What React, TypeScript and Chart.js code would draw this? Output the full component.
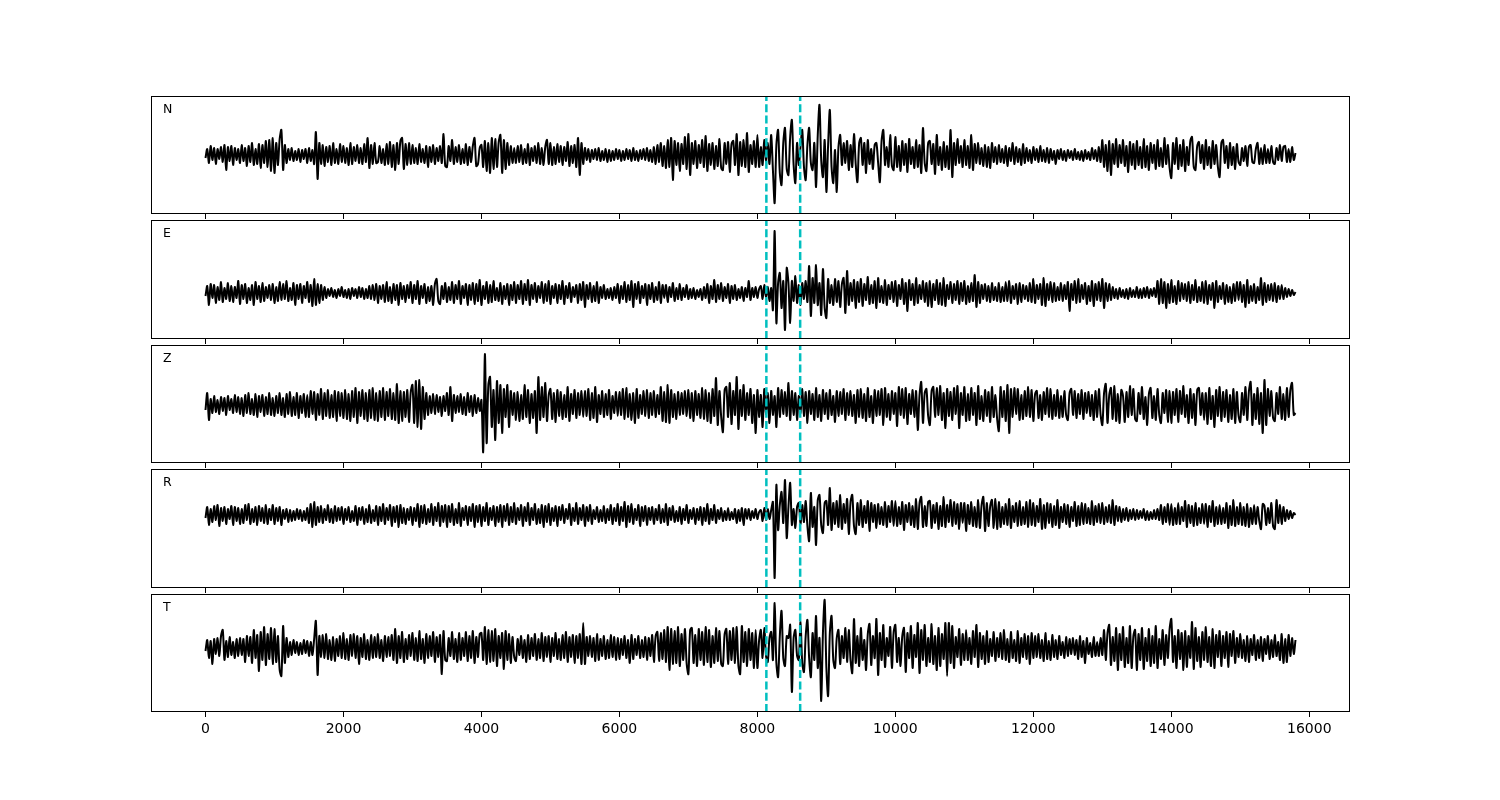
import React, { useEffect, useRef } from 'react';
import { Chart, registerables } from 'chart.js';

Chart.register(...registerables);

// ---------- data ----------
const SAMPLE_STEP = 25; // time units between samples (0 .. 15800)
const PICKS = [8130, 8620];
const X_TICKS = [0, 2000, 4000, 6000, 8000, 10000, 12000, 14000, 16000];
const X_MIN = -790;
const X_MAX = 16590;
const COMPONENTS = ['N', 'E', 'Z', 'R', 'T'];

const N_TRACE = [
  -3, 6, -8, 9, -5, 7, -9, 6, -4, 8, -7, 10, -15, 8, -6, 9, -10, 7, -5, 6,
  -8, 10, -6, 7, -11, 9, -7, 12, -10, 6, -9, 11, -13, 10, -8, 14, -12, 15, -16, 17,
  -18, 12, -10, 16, 25, -15, 10, -8, 6, -5, 7, -6, 4, -5, 6, -7, 5, -4, 6, -8,
  7, -6, 5, -9, 23, -24, 12, -9, 10, -11, 8, -7, 9, -10, 12, -8, 6, -9, 11, -7,
  9, -8, 7, -10, 12, -9, 8, -6, 10, -8, 7, -9, 11, -7, 17, -13, 10, -9, 12, -8,
  -7, 9, -8, 6, -10, 11, -9, 13, -12, 10, -15, 12, -9, 14, 17, -14, 11, -10, 12, -9,
  10, -8, 7, -9, 11, -7, 6, -8, 9, -12, 8, -7, 10, -9, 7, -6, 9, -8, 21, -11,
  -12, 9, -6, 15, -9, 8, -7, 10, -9, 6, -8, 11, -10, 8, -7, 9, 17, -11, -9, 7,
  10, -12, 14, -16, 12, -18, 17, -14, 16, -12, 13, 20, -18, 15, -14, 12, -10, 9, -8, 7,
  -8, 9, -7, 10, -9, 6, -8, 11, -10, 7, -6, 9, -8, 12, -9, 7, -10, 8, 15, -9,
  12, -10, 8, -9, 11, -7, 9, -10, 8, -6, 13, -11, 9, -8, 10, -12, 17, -20, 12, -9,
  7, -5, 6, -7, 5, -4, 6, -5, 7, -6, 4, -5, 6, -7, 5, -6, 4, -5, 6, -4,
  5, -6, 4, -5, 6, -4, 5, -6, 7, -5, 4, -6, 5, -4, 6, -5, 7, -6, 5, -7,
  8, -9, 10, -7, 12, -11, 9, -13, 15, -12, 17, -25, 14, -10, 12, -16, 11, -9, 18, -14,
  21, -20, 12, -9, 14, -13, 10, -8, 15, -12, 19, -16, 11, -10, 12, -14, 9, -11, 16, -13,
  -15, 12, -9, 13, -17, 11, 14, -10, 21, -20, 13, -11, 15, -12, 22, -17, 10, -9, 14, -12,
  20, -12, 8, -10, 15, -6, 12, -9, 20, -15, -48, 10, 25, -18, -30, 12, 27, -14, -20, 18,
  35, -10, -28, 12, -10, 8, 25, -12, -25, 10, 27, -8, -15, 12, -32, 20, 50, -5, -22, 15,
  -37, 10, 45, -12, -28, 5, -37, 8, 20, -10, 12, -8, 14, -15, 10, -12, 21, -9, -27, 12,
  17, -10, 12, -18, 15, -9, 6, -14, 10, 12, -8, -27, 14, 25, -10, 8, -12, 20, -11, -15,
  18, -12, 9, -16, 14, -10, 11, -17, 16, -9, 8, -13, 15, -12, 10, -18, 27, -8, -16, 12,
  14, -9, 11, -19, 20, -10, 8, -15, 13, -12, 9, -14, 25, -22, 12, -10, 16, -8, 9, -12,
  15, -10, 9, -13, 20, -15, 11, -8, 12, -9, 7, -11, 10, -12, 8, -13, 12, -7, 8, -9,
  10, -7, 6, -8, 9, -11, 7, -6, 12, -9, 8, -7, 6, -10, 11, -8, 7, -6, 5, -8,
  8, -5, 6, -7, 9, -6, 5, -7, 7, -8, 6, -5, 4, -9, 5, -4, 6, -5, 4, -6,
  5, -3, 4, -5, 6, -4, 3, -5, 4, -6, 5, -4, 3, -5, 7, -4, 5, -6, 8, -7,
  15, -12, 10, -16, 14, -20, 11, -9, 16, -12, 10, -8, 15, -11, 9, -17, 13, -10, 11, -14,
  14, -10, 8, -13, 16, -12, 9, -15, 12, -8, 10, -14, 15, -11, 7, -12, 17, -9, 10, -13,
  -23, 12, -9, 17, -14, 10, -11, 15, -16, 8, -10, 14, 18, -12, -15, 9, 13, -8, 10, -14,
  15, -10, 8, -13, 14, -9, 10, -12, -22, 12, 15, -8, 9, -13, 12, -10, 8, -14, 11, -7,
  -10, 7, -6, 9, -11, 8, 10, -7, -8, 6, 12, -9, 7, -9, 10, -8, 6, -8, 9, -7,
  -9, 7, -5, 10, -6, 8, 9, -7, 6, -7, 8, -5, 2,
];

const E_TRACE = [
  -3, 7, -12, 9, -5, 8, -10, 6, -7, 11, -9, 5, -6, 10, -8, 7, -9, 6, -5, 12,
  -11, 8, -6, 9, -10, 5, -7, 8, -12, 11, -6, 7, -9, 10, -8, 6, -5, 8, -7, 9,
  -10, 6, -8, 11, -7, 9, -6, 12, -8, 5, -7, 10, -12, 8, -6, 9, -10, 7, -5, 11,
  -9, 8, -13, 14, -12, 9, -10, 8, -7, 6, -5, 4, -3, 5, -4, 3, -5, 4, -3, 6,
  -4, 3, -5, 4, -6, 5, -3, 4, -5, 6, -4, 5, -6, 4, -5, 7, -6, 8, -7, 9,
  -10, 7, -6, 8, -9, 11, -8, 6, -10, 9, -7, 8, -12, 10, -6, 7, -9, 8, -5, 11,
  -10, 8, -6, 12, -11, 7, -5, 9, -10, 6, -8, 7, -12, 9, 14, -8, -11, 7, -6, 10,
  -9, 6, -7, 11, -10, 8, -6, 12, -11, 7, -5, 9, -12, 8, -7, 10, -11, 9, -8, 13,
  -12, 7, -6, 11, -10, 8, -9, 12, -7, 5, -8, 10, -11, 7, -6, 9, -12, 8, -7, 11,
  -10, 8, -6, 12, -11, 9, -7, 13, -12, 8, -6, 10, -9, 7, -5, 11, -10, 9, -8, 12,
  -11, 7, -5, 9, -10, 8, -6, 12, -11, 7, -5, 10, -9, 6, -4, 8, -10, 9, -7, 11,
  -14, 8, -6, 10, -9, 7, -8, 11, -10, 6, -5, 8, -6, 4, -5, 5, -7, 6, -5, 9,
  -10, 7, -6, 11, -9, 8, -7, 12, -14, 9, -6, 11, -10, 7, -5, 9, -12, 8, -6, 10,
  -9, 6, -7, 11, -10, 8, -5, 8, -9, 6, -4, 10, -8, 5, -6, 9, -7, 5, -4, 8,
  -6, 4, -5, 5, -6, 3, -4, 4, -7, 6, -5, 9, -10, 7, -6, 13, -9, 8, -6, 10,
  -8, 6, -5, 9, -10, 7, -6, 8, -7, 4, -5, 6, -8, 5, -4, 12, -7, 5, -4, 6,
  -5, 4, 7, -6, 8, -4, 6, -8, 5, -17, 62, -30, 10, 20, -15, 12, -37, 25, 10, -30,
  12, -8, 17, -10, 8, -12, 10, -6, 12, -9, 27, -23, 15, -10, 28, -12, 10, -22, 24, -15,
  -25, 14, -10, 8, -12, 14, -9, 12, -14, 9, 15, -20, 22, -12, 10, -8, 13, -15, 11, -9,
  14, -13, 9, -7, 16, -11, 8, -10, 12, -15, 15, -9, 7, -10, 13, -12, 8, -6, 11, -9,
  12, -13, 8, -6, 14, -11, 10, -18, 13, -7, 9, -12, 15, -10, 8, -6, 12, -9, 10, -13,
  12, -14, 9, -7, 13, -11, 10, -12, 15, -13, 8, -6, 11, -10, 9, -7, 12, -11, 10, -8,
  12, -11, 7, -9, 10, -8, 18, -14, 11, -10, 8, -6, 9, -8, 7, -9, 10, -7, 6, -8,
  10, -9, 6, -8, 11, -8, 12, -10, 7, -6, 9, -11, 10, -9, 8, -6, 7, -8, 10, -9,
  14, -10, 8, -6, 9, -12, 15, -13, 9, -7, 11, -9, 10, -8, 6, -7, 10, -8, 8, -6,
  11, -18, 9, -7, 12, -10, 14, -9, 8, -6, 10, -11, 7, -8, 12, -13, 9, -7, 11, -8,
  14, -15, 10, -8, 9, -7, 6, -5, 4, -6, 5, -4, 3, -5, 4, -6, 5, -4, 3, -4,
  6, -5, 4, -5, 5, -4, 6, -5, 4, -3, 5, -4, 12, -11, 14, -10, 11, -15, 9, -10,
  13, -9, 7, -11, 12, -8, 10, -6, 9, -8, 11, -10, 8, -7, 13, -9, 6, -8, 11, -10,
  12, -11, 8, -7, 10, -15, 12, -9, 7, -6, 10, -11, 8, -9, 6, -10, 9, -8, 11, -7,
  11, -9, 8, -14, 13, -10, 7, -8, 9, -10, 6, -7, 15, -12, 10, -9, 8, -7, 9, -8,
  10, -9, 7, -6, 8, -6, 5, -4, 4, -3, 3, -2, 1,
];

const Z_TRACE = [
  -5, 12, -15, 6, -8, 9, -7, 5, -9, 8, -6, 7, -10, 9, -5, 6, -8, 10, -7, 8,
  -9, 7, -11, 10, -8, 12, -9, 6, -10, 11, -12, 9, -7, 10, -11, 8, -9, 12, -10, 7,
  -11, 9, -8, 12, -10, 7, -12, 11, -9, 13, -11, 8, -10, 12, -13, 9, -8, 11, -12, 10,
  -12, 14, -9, 13, -15, 11, -10, 16, -14, 12, -11, 15, -13, 10, -12, 14, -16, 13, -11, 12,
  -13, 15, -14, 11, -16, 14, -12, 17, -18, 13, -11, 15, -14, 12, -16, 15, -13, 17, -15, 12,
  -16, 14, -12, 17, -15, 13, -11, 16, -14, 12, -15, 21, -18, 14, -16, 13, -12, 15, -17, 13,
  20, -18, 24, -22, 25, -24, 18, -14, 12, -10, 9, -8, 11, -9, 10, -7, 8, -11, 9, -6,
  12, -10, 18, -16, 10, -8, 9, -7, 11, -9, 8, -10, 12, -7, 9, -11, 10, -8, 7, -6,
  5, -47, 51, -38, 20, 28, -22, 15, -35, 24, -18, 20, -28, 16, -12, 20, -22, 14, -10, 12,
  -15, 13, -16, 10, -14, 20, -12, 15, -18, 11, -13, 14, -28, 28, -15, 18, -12, 22, -16, 10,
  16, -14, 12, -17, 15, -11, 13, -14, 10, -12, 18, -16, 11, -9, 15, -13, 12, -10, 14, -12,
  14, -11, 16, -15, 12, -13, 18, -17, 10, -9, 14, -12, 11, -10, 15, -14, 9, -8, 13, -11,
  13, -10, 16, -14, 17, -12, 11, -15, 12, -18, 16, -13, 10, -9, 14, -11, 15, -13, 12, -10,
  14, -12, 10, -9, 18, -16, 13, -17, 20, -18, 15, -12, 11, -14, 13, -10, 12, -9, 14, -11,
  15, -13, 12, -16, 14, -10, 11, -13, 17, -14, 15, -16, 12, -18, 16, -11, 27, -20, 14, -12,
  -27, 15, 18, -12, 22, -19, 14, -10, 28, -24, 15, -11, 20, -15, 12, -10, 16, -18, 10, -28,
  15, -12, 10, -22, 16, -9, 12, -18, 14, -10, 9, -22, 17, -12, 15, -9, 13, -11, 22, -15,
  14, -10, 12, -15, 9, -8, 16, -11, 13, -18, 14, -9, 11, -15, 17, -12, 10, -16, 15, -9,
  12, -14, 15, -10, 9, -17, 14, -11, 13, -9, 16, -15, 12, -10, 14, -11, 10, -18, 15, -12,
  16, -13, 11, -16, 17, -12, 9, -18, 15, -11, 14, -10, 16, -20, 17, -12, 11, -15, 14, -9,
  12, -21, 18, -10, 16, -13, 17, -19, 11, -9, 15, -12, 14, -25, 10, 23, -18, 12, 16, -11,
  -20, 14, 18, -12, 17, -10, 19, -15, 12, -23, 16, -11, 13, -15, 17, -9, 19, -23, 12, -10,
  18, -16, 11, -15, 17, -10, 12, -20, 19, -14, 9, -16, 15, -11, 13, -17, 18, -12, 10, -14,
  -26, 18, -12, 14, -16, 20, -28, 16, -12, 17, -9, 16, -15, 10, -14, 14, -11, 18, -12, 15,
  -16, 11, 14, -13, 10, -15, 13, -9, 17, -12, 16, -14, 10, -11, 15, -13, 9, -12, 14, -10,
  -15, 12, 16, -10, 14, -13, 11, -9, 15, -14, 12, -8, 13, -11, 10, -15, 14, -12, 16, -10,
  -20, 12, 21, -18, 10, 17, -14, 19, -16, 11, -18, 15, 9, -17, 13, -12, 19, -10, 16, -14,
  -16, 12, -9, 18, -14, 8, -20, 11, 17, -13, 9, -15, 16, -10, -18, 12, -8, 15, -17, 14,
  -18, 13, -10, 16, -17, 14, -9, 19, -12, 10, -18, 16, -13, 11, -20, 15, 17, -10, 12, -15,
  12, -19, 17, -14, 9, -22, 15, -11, 18, -16, 13, -12, 15, -17, 10, -14, 16, -18, 13, -11,
  -17, 12, -10, 18, -15, 14, 23, -20, 11, -14, 17, -19, 12, -28, 25, -20, 16, -11, 14, -13,
  -16, 12, -9, 18, -14, 11, -15, 17, -12, 15, 22, -10, -8,
];

const R_TRACE = [
  -3, 8, -10, 6, -7, 9, -5, 10, -11, 7, -6, 8, -9, 6, -4, 9, -10, 8, -6, 7,
  -9, 6, -8, 10, -5, 11, -9, 6, -7, 8, -10, 9, -6, 7, -8, 10, -9, 6, -5, 10,
  -9, 7, -6, 8, -10, 5, -4, 6, -7, 5, -6, 4, -5, 6, -4, 5, -6, 4, -5, 7,
  -8, 11, -12, 13, -10, 8, -7, 9, -8, 6, -5, 10, -7, 6, -8, 9, -6, 7, -5, 8,
  -9, 6, -5, 8, -7, 4, -6, 9, -10, 7, -5, 8, -9, 6, -7, 10, -8, 5, -6, 9,
  -10, 8, -6, 11, -9, 7, -5, 10, -11, 8, -7, 9, -12, 10, -8, 7, -9, 6, -5, 8,
  -10, 7, -6, 11, -12, 9, -8, 10, -9, 6, -7, 11, -10, 8, -6, 12, -11, 9, -7, 10,
  -12, 9, -7, 11, -10, 6, -8, 12, -11, 7, -5, 9, -10, 8, -6, 11, -12, 9, -7, 10,
  -11, 8, -6, 12, -10, 7, -5, 9, -11, 8, -7, 10, -12, 9, -6, 11, -10, 8, -7, 12,
  -9, 7, -5, 10, -11, 8, -6, 12, -10, 7, -5, 11, -9, 6, -8, 10, -12, 9, -7, 11,
  -10, 7, -6, 9, -11, 8, -5, 10, -8, 6, -4, 11, -10, 7, -6, 12, -9, 7, -5, 10,
  -11, 8, -6, 10, -9, 5, -4, 8, -7, 5, -6, 9, -8, 6, -5, 10, -9, 7, -6, 11,
  -10, 8, -6, 13, -12, 9, -7, 11, -9, 6, -5, 10, -11, 8, -6, 9, -10, 7, -5, 8,
  -9, 6, -5, 10, -8, 6, -7, 11, -10, 7, -5, 9, -7, 4, -6, 8, -9, 6, -5, 10,
  -8, 5, -4, 7, -9, 6, -5, 8, -10, 7, -6, 11, -9, 6, -5, 10, -8, 5, -4, 7,
  -6, 4, -5, 7, -5, 3, -4, 6, -8, 5, -6, 7, -10, 6, -4, 6, -5, 4, -3, 6,
  -4, 3, 5, -6, 7, -5, 6, -4, 5, 13, -63, 30, -15, 10, 23, -8, 35, -23, 8, 32,
  -10, 6, -13, 8, 12, -9, 10, -7, 14, -11, -26, 22, -12, 8, -30, 15, 20, -10, -18, 12,
  14, -10, 27, -15, 12, -9, 14, -12, 20, -14, 11, -8, 16, -19, 13, 20, -11, -19, 12, -10,
  15, -12, 9, -8, 14, -16, 12, -7, 10, -13, 11, -9, 8, -10, 13, -12, 9, -7, 14, -11,
  14, -11, 8, -9, 13, -15, 10, -7, 12, -10, 9, -12, 16, -14, 12, 18, -12, 9, -11, 13,
  14, -13, 10, -8, 12, -14, 9, -11, 18, -12, 10, -7, 15, -11, 13, -9, 11, -14, 12, -8,
  12, -16, 10, -9, 13, -11, 8, -12, 15, -13, 10, 18, -16, 12, -11, 9, 15, -13, 16, -14,
  13, -12, 8, -9, 11, -10, 16, -13, 9, -7, 12, -11, 14, -10, 8, -9, 13, -12, 15, -10,
  12, -11, 9, -7, 16, -14, 10, -13, 12, -8, 11, -12, 9, -10, 15, -13, 8, -7, 11, -9,
  10, -12, 8, -6, 13, -11, 9, -10, 12, -9, 11, -8, 7, -9, 14, -10, 9, -7, 11, -8,
  12, -9, 8, -7, 10, -8, 15, -10, 9, -6, 8, -7, 6, -5, 7, -6, 5, -4, 6, -5,
  5, -4, 4, -3, 6, -5, 4, -5, 3, -4, 5, -4, 6, -5, 10, -9, 8, -7, 11, -10,
  11, -10, 7, -9, 12, -9, 8, -6, 14, -12, 10, -8, 9, -11, 12, -10, 7, -8, 11, -9,
  11, -12, 9, -7, 14, -11, 8, -9, 10, -9, 7, -8, 12, -13, 9, -10, 15, -11, 8, -9,
  12, -10, 8, -11, 11, -12, 7, -9, 10, -9, 8, -6, -14, 11, 9, -10, 7, -8, 12, -11,
  -14, 15, -8, 10, -9, 8, -6, 5, -4, 4, -3, 2, 0,
];

const T_TRACE = [
  -3, 8, -10, 7, -16, 9, -6, 10, -8, 12, 18, -12, 7, -9, 11, -7, 6, -10, 9, -8,
  10, -7, 9, -14, 12, -8, 11, -15, 18, -10, 13, -23, 16, -12, 21, -17, 14, -11, 20, -16,
  19, -14, 12, -22, -28, 22, -15, 10, -9, 6, -7, 8, -5, 6, -7, 5, -6, 8, -5, 7,
  -8, 6, -7, 9, 27, -27, 12, -9, 13, -10, 14, -11, 8, -12, 11, -13, 9, -8, 12, -10,
  15, -11, 9, -12, 13, -8, 14, -10, 12, -16, 10, -9, 14, -11, 8, -12, 13, -10, 11, -9,
  14, -10, 8, -13, 12, -9, 11, -8, 13, -12, 19, -15, 12, -10, 16, -14, 9, -11, 13, -8,
  15, -12, 10, -13, 17, -11, 9, -15, 14, -10, 12, -8, 16, -14, 11, -9, 13, -26, 17, -12,
  -13, 10, -8, 16, -11, 9, -14, 15, -12, 10, -8, 16, -13, 12, -10, 17, -15, 11, -9, 14,
  15, -12, 21, -16, 18, -14, 17, -13, 19, -18, 12, -10, 15, -21, 17, -12, 14, -15, 11, -9,
  -13, 9, -7, 12, -10, 8, -14, 13, -11, 10, -8, 14, -12, 9, -10, 15, -13, 11, -9, 12,
  -14, 10, -8, 15, -11, 9, -12, 13, -10, 16, -14, 11, -9, 13, -15, 12, -10, 14, -16, 25,
  -16, 11, -8, 12, -9, 10, -13, 14, -12, 9, -8, 12, -11, 8, -10, 13, -9, 11, -12, 10,
  -11, 9, -7, 12, -10, 8, -15, 13, -11, 9, -7, 12, -10, 8, -9, 11, -12, 10, -8, 13,
  -14, 12, 16, -13, 15, -11, 18, -14, 21, -22, 19, -16, 17, -15, 21, -18, 14, -12, 19, -16,
  -26, 18, 20, -15, 13, -18, 19, -12, 16, -17, 21, -14, 18, -19, 12, -15, 20, -13, 17, -16,
  -18, 14, 19, -16, 17, -12, 20, -15, 21, -18, -26, 22, -14, 16, -18, 19, -12, 15, -20, 18,
  -20, 8, 18, -10, 20, -8, -14, 10, 16, -12, 45, -15, -29, 12, 37, -10, -18, 12, 10, 23,
  -44, 10, 18, -8, -12, 26, -15, -24, 12, 28, -10, -29, 15, -12, 32, -20, 10, -53, 15, 48,
  -20, -48, 15, 32, -12, -20, 10, 18, -16, 12, -10, 20, -14, 18, -12, -25, 29, -15, 12, -18,
  20, -12, 8, -22, 14, 24, -17, 12, -10, 29, -27, 15, -12, 23, -19, 10, -8, 21, -20, 16,
  23, -14, 10, -18, 12, 20, -24, 15, -10, 22, -20, 13, -9, 25, -25, 18, -12, 23, -18, 10,
  -14, 24, -16, 12, -22, 20, -18, 14, -11, 25, -28, 25, -15, 22, -20, 11, -9, 19, -17, 14,
  -12, 18, -12, 10, -16, 17, -9, 23, -19, 15, -11, 12, -16, 17, -14, 9, -8, 16, -13, 10,
  -9, 15, -11, 18, -12, 9, -14, 16, -10, 8, -13, 17, -15, 10, -9, 14, -11, 12, -16, 15,
  -10, 12, -9, 14, -10, 8, -13, 15, -11, 7, -12, 13, -9, 8, -11, 12, -7, 6, -10, 11,
  -8, 9, -6, 10, -7, 8, -11, 12, -9, 7, -15, 10, -6, 5, -9, 11, -8, 6, -8, 10,
  -7, 18, -12, 15, 23, -17, 11, -13, 20, -22, 14, -12, 21, -19, 10, -15, 22, -20, 12, 18,
  -22, 14, -12, 20, -21, 10, -13, 19, -18, 12, -15, 22, -20, 9, -11, 18, -17, 13, -10, 19,
  29, -14, 12, -20, 18, -11, 15, -22, 17, -19, 12, -10, 26, -21, 20, -13, 11, -19, 16, -12,
  21, -14, 11, -18, 19, -20, 13, -9, 17, -18, 12, -10, 16, -19, 14, -8, 17, -15, 10, -9,
  14, -10, 8, -13, 12, -14, 9, -7, 13, -12, 8, -10, 11, -13, 9, -6, 12, -11, 8, -9,
  13, -8, 6, -12, 14, -15, 9, -14, 13, -8, 10, -6, 8,
];

const TRACES = [N_TRACE, E_TRACE, Z_TRACE, R_TRACE, T_TRACE];
const Y_MIN = [-59, -46, -58, -73, -64];
const Y_MAX = [59, 73, 60, 46, 54];

// ---------- layout ----------
const PANEL_TOP = [96, 220, 345, 469, 594];
const PANEL_H = [118, 119, 118, 119, 118];
const PAD_TOP = 10;
const FONT = "'DejaVu Sans', 'Liberation Sans', sans-serif";

type PanelProps = { idx: number };

function Panel({ idx }: PanelProps) {
  const ref = useRef<HTMLCanvasElement | null>(null);
  const isLast = idx === TRACES.length - 1;
  const bottomSpace = isLast ? 40 : 10;
  const canvasH = PAD_TOP + PANEL_H[idx] + bottomSpace;

  useEffect(() => {
    const canvas = ref.current;
    if (!canvas) return;
    const label = COMPONENTS[idx];
    const yMin = Y_MIN[idx];
    const yMax = Y_MAX[idx];
    const trace = TRACES[idx];

    const framePlugin = {
      id: 'frame' + idx,
      afterDraw(chart: any) {
        const { ctx, chartArea } = chart;
        const { left, right, top, bottom } = chartArea;
        ctx.save();
        ctx.strokeStyle = '#000';
        ctx.lineWidth = 1;
        ctx.strokeRect(Math.round(left) + 0.5, Math.round(top) + 0.5, Math.round(right - left) - 1, Math.round(bottom - top) - 1);
        ctx.fillStyle = '#000';
        ctx.font = `12.5px ${FONT}`;
        ctx.textBaseline = 'alphabetic';
        ctx.textAlign = 'left';
        ctx.fillText(label, left + 12, top + 17);
        ctx.restore();
      },
    };

    const datasets: any[] = PICKS.map((p) => ({
      data: [
        { x: p, y: yMin },
        { x: p, y: yMax },
      ],
      showLine: true,
      borderColor: '#00bfbf',
      borderWidth: 2.5,
      borderDash: [8, 3.3],
      pointRadius: 0,
      fill: false,
    }));
    datasets.push({
      data: trace.map((v, i) => ({ x: i * SAMPLE_STEP, y: v })),
      showLine: true,
      borderColor: '#000',
      borderWidth: 2,
      pointRadius: 0,
      tension: 0.3,
      fill: false,
    });

    const chart = new Chart(canvas, {
      type: 'scatter',
      data: { datasets },
      options: {
        responsive: false,
        animation: false,
        events: [],
        layout: { padding: { left: 151, right: 150, top: PAD_TOP, bottom: 0 } },
        plugins: { legend: { display: false }, tooltip: { enabled: false } },
        scales: {
          x: {
            type: 'linear',
            min: X_MIN,
            max: X_MAX,
            afterBuildTicks: (axis: any) => {
              axis.ticks = X_TICKS.map((v) => ({ value: v }));
            },
            afterFit: (axis: any) => {
              axis.height = bottomSpace;
            },
            border: { display: false },
            grid: {
              display: true,
              drawOnChartArea: false,
              drawTicks: true,
              tickLength: 5,
              color: '#000',
              lineWidth: 1,
            },
            ticks: {
              autoSkip: false,
              maxRotation: 0,
              padding: 4,
              color: '#000',
              font: { family: FONT, size: 14 },
              callback: (v: any) => (isLast ? String(v) : ''),
            },
          },
          y: { display: false, min: yMin, max: yMax },
        },
      } as any,
      plugins: [framePlugin],
    });
    return () => chart.destroy();
  }, [idx]);

  return (
    <canvas
      ref={ref}
      width={1500}
      height={canvasH}
      style={{ position: 'absolute', left: 0, top: PANEL_TOP[idx] - PAD_TOP, width: 1500, height: canvasH }}
    />
  );
}

export default function App() {
  return (
    <div style={{ position: 'absolute', left: 0, top: 0, width: 1500, height: 800, background: '#fff' }}>
      {COMPONENTS.map((c, i) => (
        <Panel key={c} idx={i} />
      ))}
    </div>
  );
}
